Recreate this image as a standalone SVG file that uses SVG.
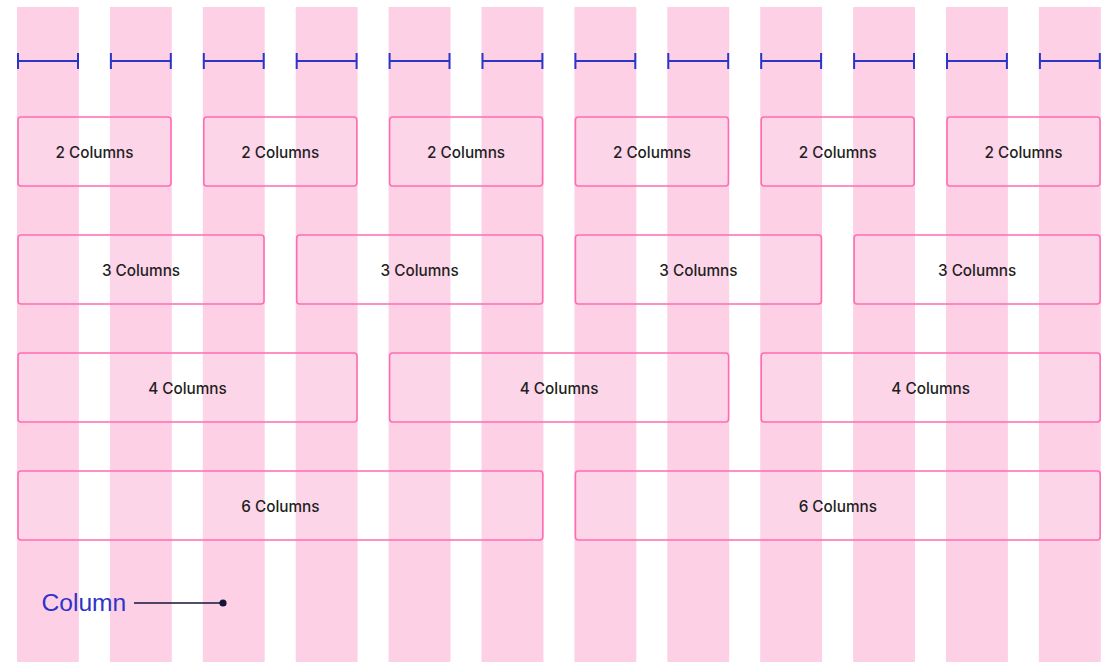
<svg xmlns="http://www.w3.org/2000/svg" width="1109" height="662" viewBox="0 0 1109 662">
<style>
.col{fill:#fdd0e6}
.m{stroke:#2b35c8;stroke-width:2;fill:none}
.box{fill:#ffffff;fill-opacity:0.12;stroke:#ff6cb1;stroke-width:1.6}
.t{font-family:Inter,"Liberation Sans",sans-serif;font-size:15.3px;font-weight:500;fill:#1f1f24;text-anchor:middle}
</style>
<rect width="1109" height="662" fill="#ffffff"/>
<g id="columns">
<rect class="col" x="17" y="7" width="61.9" height="655"/>
<rect class="col" x="109.9" y="7" width="61.9" height="655"/>
<rect class="col" x="202.8" y="7" width="61.9" height="655"/>
<rect class="col" x="295.7" y="7" width="61.9" height="655"/>
<rect class="col" x="388.6" y="7" width="61.9" height="655"/>
<rect class="col" x="481.5" y="7" width="61.9" height="655"/>
<rect class="col" x="574.4" y="7" width="61.9" height="655"/>
<rect class="col" x="667.3" y="7" width="61.9" height="655"/>
<rect class="col" x="760.2" y="7" width="61.9" height="655"/>
<rect class="col" x="853.1" y="7" width="61.9" height="655"/>
<rect class="col" x="946" y="7" width="61.9" height="655"/>
<rect class="col" x="1038.9" y="7" width="61.9" height="655"/>
</g>
<g id="measures">
<path class="m" d="M18 53v16M18 61H78M78 53v16"/>
<path class="m" d="M110.9 53v16M110.9 61H170.8M170.8 53v16"/>
<path class="m" d="M203.8 53v16M203.8 61H263.7M263.7 53v16"/>
<path class="m" d="M296.7 53v16M296.7 61H356.6M356.6 53v16"/>
<path class="m" d="M389.6 53v16M389.6 61H449.5M449.5 53v16"/>
<path class="m" d="M482.5 53v16M482.5 61H542.4M542.4 53v16"/>
<path class="m" d="M575.4 53v16M575.4 61H635.3M635.3 53v16"/>
<path class="m" d="M668.3 53v16M668.3 61H728.2M728.2 53v16"/>
<path class="m" d="M761.2 53v16M761.2 61H821.1M821.1 53v16"/>
<path class="m" d="M854.1 53v16M854.1 61H914M914 53v16"/>
<path class="m" d="M947 53v16M947 61H1006.9M1006.9 53v16"/>
<path class="m" d="M1039.9 53v16M1039.9 61H1099.8M1099.8 53v16"/>
</g>
<g id="row2">
<g id="b2-1"><rect class="box" x="18" y="117" width="153" height="69" rx="3"/><text class="t" x="94.5" y="157.5">2 Columns</text></g>
<g id="b2-2"><rect class="box" x="203.8" y="117" width="153" height="69" rx="3"/><text class="t" x="280.3" y="157.5">2 Columns</text></g>
<g id="b2-3"><rect class="box" x="389.6" y="117" width="153" height="69" rx="3"/><text class="t" x="466.1" y="157.5">2 Columns</text></g>
<g id="b2-4"><rect class="box" x="575.4" y="117" width="153" height="69" rx="3"/><text class="t" x="651.9" y="157.5">2 Columns</text></g>
<g id="b2-5"><rect class="box" x="761.2" y="117" width="153" height="69" rx="3"/><text class="t" x="837.7" y="157.5">2 Columns</text></g>
<g id="b2-6"><rect class="box" x="947" y="117" width="153" height="69" rx="3"/><text class="t" x="1023.5" y="157.5">2 Columns</text></g>
</g>
<g id="row3">
<g id="b3-1"><rect class="box" x="18" y="235" width="246" height="69" rx="3"/><text class="t" x="141" y="275.5">3 Columns</text></g>
<g id="b3-2"><rect class="box" x="296.7" y="235" width="246" height="69" rx="3"/><text class="t" x="419.7" y="275.5">3 Columns</text></g>
<g id="b3-3"><rect class="box" x="575.4" y="235" width="246" height="69" rx="3"/><text class="t" x="698.4" y="275.5">3 Columns</text></g>
<g id="b3-4"><rect class="box" x="854.1" y="235" width="246" height="69" rx="3"/><text class="t" x="977.1" y="275.5">3 Columns</text></g>
</g>
<g id="row4">
<g id="b4-1"><rect class="box" x="18" y="353" width="339" height="69" rx="3"/><text class="t" x="187.5" y="393.5">4 Columns</text></g>
<g id="b4-2"><rect class="box" x="389.6" y="353" width="339" height="69" rx="3"/><text class="t" x="559.1" y="393.5">4 Columns</text></g>
<g id="b4-3"><rect class="box" x="761.2" y="353" width="339" height="69" rx="3"/><text class="t" x="930.7" y="393.5">4 Columns</text></g>
</g>
<g id="row6">
<g id="b6-1"><rect class="box" x="18" y="471" width="524.8" height="69" rx="3"/><text class="t" x="280.4" y="511.5">6 Columns</text></g>
<g id="b6-2"><rect class="box" x="575.4" y="471" width="524.8" height="69" rx="3"/><text class="t" x="837.8" y="511.5">6 Columns</text></g>
</g>
<g id="label">
<text x="41.5" y="611" font-family="'Liberation Sans',Arial,sans-serif" font-size="24.6" fill="#2f33c9">Column</text>
</g>
<g id="connectors">
<line x1="134" y1="603" x2="223" y2="603" stroke="#15153a" stroke-width="1.6"/>
<circle cx="223" cy="603" r="3.6" fill="#15153a"/>
</g>
</svg>
